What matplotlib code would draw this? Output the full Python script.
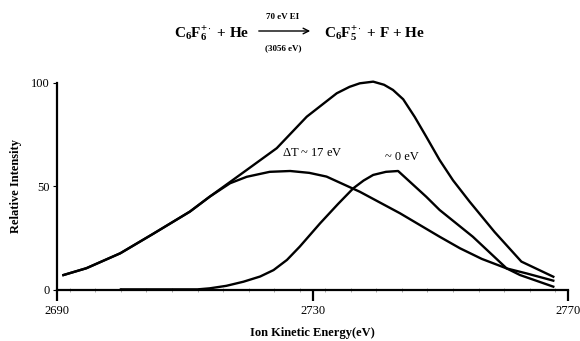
import matplotlib
matplotlib.use('Agg')
import matplotlib.pyplot as plt
from matplotlib.ticker import MultipleLocator

plt.rcParams.update({
    'font.family': 'Liberation Serif',
    'mathtext.fontset': 'custom',
    'mathtext.rm': 'Liberation Serif',
    'mathtext.bf': 'Liberation Serif:bold',
    'mathtext.it': 'Liberation Serif:italic',
})

# ── data ──────────────────────────────────────────────────────────────
total_x = [2691.0, 2694.6, 2699.9, 2705.0, 2710.8, 2713.9, 2719.7, 2724.4, 2729.1,
           2733.8, 2735.8, 2737.4, 2739.5, 2741.2, 2742.6, 2744.2, 2746.0, 2747.8,
           2749.9, 2752.0, 2754.6, 2758.5, 2762.7, 2767.7]
total_y = [7.2, 10.5, 17.7, 27.0, 37.8, 45.0, 57.9, 68.4, 83.6,
           94.9, 98.0, 99.7, 100.5, 99.0, 96.5, 92.0, 83.5, 74.0,
           62.7, 52.9, 42.6, 28.0, 13.7, 6.4]

hot_x = [2691.0, 2694.6, 2699.9, 2705.0, 2710.8, 2713.9, 2717.1, 2719.7, 2723.3,
         2726.5, 2729.5, 2732.2, 2737.4, 2743.7, 2749.9, 2753.1, 2756.5, 2760.4,
         2763.5, 2767.7]
hot_y = [7.2, 10.5, 17.7, 27.0, 37.8, 45.0, 51.5, 54.6, 57.0,
         57.4, 56.5, 54.7, 47.4, 37.0, 25.7, 20.1, 15.0, 10.4,
         8.0, 4.5]

cold_x = [2700.0, 2712.0, 2713.9, 2716.5, 2719.2, 2721.8, 2723.9, 2726.0, 2728.0,
          2731.2, 2734.0, 2736.4, 2738.0, 2739.5, 2741.5, 2743.4, 2747.8, 2749.9,
          2755.1, 2760.4, 2762.5, 2767.7]
cold_y = [0.3, 0.3, 0.8, 2.0, 4.0, 6.5, 9.6, 14.5, 20.9,
          32.2, 41.5, 49.1, 52.8, 55.5, 57.0, 57.4, 45.0, 38.6,
          25.7, 10.4, 7.2, 1.6]

x_ticks = [2690, 2730, 2770]
y_ticks = [0, 50, 100]

fig = plt.figure(figsize=(5.8, 3.41), dpi=100)
ax = fig.add_axes([0.0983, 0.1496, 0.8810, 0.6079])

for xs, ys in [(total_x, total_y), (hot_x, hot_y), (cold_x, cold_y)]:
    ax.plot(xs, ys, color='black', lw=1.7, clip_on=False, solid_joinstyle='round')

ax.set_xlim(2690, 2770)
ax.set_ylim(0, 100)
ax.set_xticks(x_ticks)
ax.set_yticks(y_ticks)
ax.xaxis.set_minor_locator(MultipleLocator(4))
ax.tick_params(axis='x', which='major', direction='out', length=8, width=1.6,
               labelsize=9, pad=3)
ax.tick_params(axis='x', which='minor', direction='inout', length=3, width=0.5,
               color='#888888')
ax.tick_params(axis='y', which='major', direction='out', length=3, width=0.8,
               labelsize=9, pad=2)
for s in ['top', 'right']:
    ax.spines[s].set_visible(False)
for s in ['left', 'bottom']:
    ax.spines[s].set_linewidth(1.6)

ax.set_xlabel('Ion Kinetic Energy(eV)', fontsize=9, fontweight='bold', labelpad=7)
ax.set_ylabel('Relative Intensity', fontsize=9, fontweight='bold', labelpad=7)

ax.text(2730, 66, r'$\Delta$T ~ 17 eV', fontsize=9, ha='center', va='center')
ax.text(2744, 64, '~ 0 eV', fontsize=9, ha='center', va='center')

# ── reaction header ───────────────────────────────────────────────────
W, H = 580.0, 341.0
def fx(p):
    return p / W
def fy(p):
    return 1 - p / H

fig.text(fx(174), fy(34), r'$\mathbf{C_6F_6^{+\cdot}}$' + ' + He', fontsize=11,
         fontweight='bold', ha='left', va='center')
fig.text(fx(324), fy(34), r'$\mathbf{C_6F_5^{+\cdot}}$' + ' + F + He', fontsize=11,
         fontweight='bold', ha='left', va='center')
fig.text(fx(283), fy(17), '70 eV EI', fontsize=6.5, fontweight='bold',
         ha='center', va='center')
fig.text(fx(283), fy(48), '(3056 eV)', fontsize=6.5, fontweight='bold',
         ha='center', va='center')
fig.patches.append(matplotlib.patches.FancyArrowPatch(
    (fx(256), fy(31)), (fx(313), fy(31)), transform=fig.transFigure,
    arrowstyle='->', mutation_scale=10, lw=1.0, color='black'))

fig.savefig('out.png', dpi=100)
